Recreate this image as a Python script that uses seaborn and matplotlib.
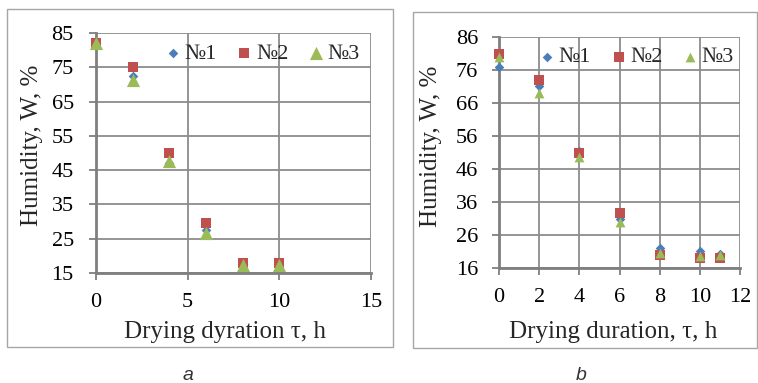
import matplotlib
matplotlib.use("Agg")
import matplotlib.pyplot as plt
import seaborn as sns
import pandas as pd
from matplotlib.patches import Rectangle

# ---- data ----
series_names = ["№1", "№2", "№3"]
time_a = [0, 2, 4, 6, 8, 10]
a_n1 = [82, 72.5, 47, 27.5, 17.5, 17.5]
a_n2 = [82, 75, 50, 29.7, 18, 18]
a_n3 = [82, 71.3, 47.7, 26.6, 17.4, 17.4]

time_b = [0, 2, 4, 6, 8, 10, 11]
b_n1 = [77, 71.3, 51.6, 31, 22.2, 21.2, 20.3]
b_n2 = [81, 72.9, 50.8, 32.6, 20, 19, 18.9]
b_n3 = [80, 68.9, 49.5, 29.9, 20.6, 19.6, 19.8]

xticks_a = [0, 5, 10, 15]
yticks_a = [15, 25, 35, 45, 55, 65, 75, 85]
xticks_b = [0, 2, 4, 6, 8, 10, 12]
yticks_b = [16, 26, 36, 46, 56, 66, 76, 86]

xlabel_a = "Drying dyration τ, h"
xlabel_b = "Drying duration, τ, h"
ylabel = "Humidity, W, %"

colors = {"№1": "#4A7EBB", "№2": "#C0504D", "№3": "#9BBB59"}
markers = {"№1": "D", "№2": "s", "№3": "^"}

sns.set_theme(style="white")
plt.rcParams["font.family"] = ["Liberation Serif", "DejaVu Serif"]

W, H = 758, 383
fig = plt.figure(figsize=(W / 100, H / 100), dpi=100)


def px_axes(l, t, r, b):
    return fig.add_axes([l / W, 1 - b / H, (r - l) / W, (b - t) / H])


def draw_panel(ax, t, ys, sizes, xt, yt, xlab, xlab_xy, ylab_xy, ypad,
               legend_anchor):
    frames = []
    for name, vals in zip(series_names, ys):
        frames.append(pd.DataFrame({"t": t, "w": vals, "series": name}))
    df = pd.concat(frames, ignore_index=True)
    for name in series_names:
        sub = df[df["series"] == name]
        sns.scatterplot(data=sub, x="t", y="w", marker=markers[name],
                        color=colors[name], s=sizes[name], linewidth=0,
                        ax=ax, label=name, zorder=3, clip_on=False)
    ax.set_xlim(xt[0], xt[-1])
    ax.set_ylim(yt[0], yt[-1])
    ax.set_xticks(xt)
    ax.set_yticks(yt)
    ax.grid(True, color="#8c8c8c", linewidth=1.3)
    ax.set_axisbelow(True)
    for s in ["top", "right"]:
        ax.spines[s].set_visible(False)
    for s in ["left", "bottom"]:
        ax.spines[s].set_color("#7f7f7f")
        ax.spines[s].set_linewidth(2)
    ax.tick_params(axis="both", which="major", labelsize=16, colors="#7f7f7f",
                   labelcolor="black", length=5, width=1.3, direction="out",
                   left=True, bottom=True)
    ax.tick_params(axis="y", pad=ypad)
    ax.tick_params(axis="x", pad=9.5)
    ax.set_xlabel(xlab, fontsize=18)
    ax.set_ylabel(ylabel, fontsize=18)
    ax.xaxis.set_label_coords(*xlab_xy)
    ax.xaxis.label.set_va("center")
    ax.yaxis.set_label_coords(*ylab_xy)
    ax.yaxis.label.set_va("center")
    leg = ax.legend(ncol=3, frameon=False, fontsize=16, loc="center",
                    bbox_to_anchor=legend_anchor, handlelength=0.6,
                    handletextpad=0.22, columnspacing=0.93, borderaxespad=0,
                    borderpad=0)
    return leg


ax1 = px_axes(96, 33, 371, 273)
draw_panel(ax1, time_a, [a_n1, a_n2, a_n3],
           {"№1": 24, "№2": 55, "№3": 90},
           xticks_a, yticks_a, xlabel_a, (0.47, -0.246), (-0.233, 0.53), 11,
           (0.607, 0.9125))

ax2 = px_axes(499, 37, 740, 268)
draw_panel(ax2, time_b, [b_n1, b_n2, b_n3],
           {"№1": 24, "№2": 55, "№3": 50},
           xticks_b, yticks_b, xlabel_b, (0.475, -0.277), (-0.282, 0.526), 10,
           (0.573, 0.913))

# panel frames
fig.patches.append(Rectangle((7 / W, 1 - 347 / H), (393 - 7) / W, (347 - 9) / H,
                             transform=fig.transFigure, fill=False,
                             edgecolor="#a6a6a6", linewidth=1))
fig.patches.append(Rectangle((413 / W, 1 - 348 / H), (757 - 413) / W, (348 - 12) / H,
                             transform=fig.transFigure, fill=False,
                             edgecolor="#a6a6a6", linewidth=1))

fig.text(188 / W, 1 - 375 / H, "a", ha="center", va="center", fontsize=14,
         style="italic", family=["Liberation Sans", "DejaVu Sans"], color="#333333")
fig.text(581 / W, 1 - 375 / H, "b", ha="center", va="center", fontsize=14,
         style="italic", family=["Liberation Sans", "DejaVu Sans"], color="#333333")

fig.savefig("out.png", dpi=100)
